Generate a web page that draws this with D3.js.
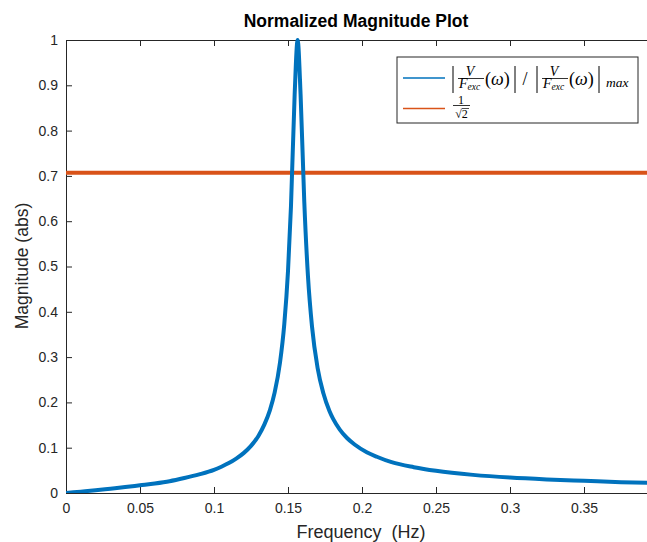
<!DOCTYPE html>
<html>
<head>
<meta charset="utf-8">
<script src="https://cdn.jsdelivr.net/npm/d3@7"></script>
<style>
  body { margin: 0; background: #fff; }
  svg { display: block; font-family: "Liberation Sans", Arial, Helvetica, sans-serif; }
  .tex { font-family: "Liberation Serif", "DejaVu Serif", serif; }
</style>
</head>
<body>
<svg id="chart" width="647" height="542"></svg>
<script>
// values
var freq = [0, 0.01, 0.02, 0.03, 0.04, 0.05, 0.06, 0.07, 0.08, 0.09, 0.10, 0.105, 0.11, 0.115, 0.12, 0.125, 0.13,
            0.134, 0.1378, 0.141, 0.1446, 0.1475, 0.150, 0.152, 0.1545, 0.1565, 0.1585, 0.161, 0.1635,
            0.1662, 0.170, 0.1739, 0.178, 0.1806, 0.185, 0.1897, 0.195, 0.2032, 0.21, 0.22, 0.235,
            0.25, 0.275, 0.30, 0.325, 0.35, 0.375, 0.40];
var magnitude = [0, 0.003, 0.006, 0.0095, 0.013, 0.017, 0.021, 0.026, 0.033, 0.041, 0.051, 0.058, 0.066, 0.076, 0.088, 0.104, 0.126,
                 0.151, 0.183, 0.222, 0.288, 0.373, 0.49, 0.632, 0.88, 1.0, 0.88, 0.643, 0.478,
                 0.368, 0.276, 0.22, 0.181, 0.163, 0.140, 0.122, 0.107, 0.090, 0.080, 0.068, 0.057,
                 0.049, 0.040, 0.034, 0.030, 0.027, 0.024, 0.022];
var halfPower = 1 / Math.SQRT2;
var xTicks = [0, 0.05, 0.1, 0.15, 0.2, 0.25, 0.3, 0.35];
var yTicks = [0, 0.1, 0.2, 0.3, 0.4, 0.5, 0.6, 0.7, 0.8, 0.9, 1];

var svg = d3.select("#chart");
var plotL = 66, plotT = 40, plotR = 658, plotB = 493;
var axisColor = "#262626";

var x = d3.scaleLinear().domain([0, 0.4]).range([plotL, plotR]);
var y = d3.scaleLinear().domain([0, 1]).range([plotB, plotT]);

svg.append("defs").append("clipPath").attr("id", "clip")
  .append("rect").attr("x", plotL).attr("y", plotT - 2).attr("width", plotR - plotL).attr("height", plotB - plotT + 2);

// axes
var fmt = function(d) { return d3.format("~g")(d); };
var xAxis = svg.append("g").attr("transform", "translate(0," + plotB + ")")
  .call(d3.axisBottom(x).tickValues(xTicks).tickSize(-6).tickPadding(10).tickFormat(fmt));
var xTop = svg.append("g").attr("transform", "translate(0," + plotT + ")")
  .call(d3.axisTop(x).tickValues(xTicks).tickSize(-6).tickFormat(""));
var yAxis = svg.append("g").attr("transform", "translate(" + plotL + ",0)")
  .call(d3.axisLeft(y).tickValues(yTicks).tickSize(-6).tickPadding(8).tickFormat(fmt));

[xAxis, xTop, yAxis].forEach(function(g) {
  g.select(".domain").attr("stroke", axisColor).attr("stroke-width", 1);
  g.selectAll(".tick line").attr("stroke", axisColor).attr("stroke-width", 1);
  g.selectAll(".tick text").attr("fill", "#262626").style("font-size", "14px")
    .style("font-family", "'Liberation Sans', Arial, sans-serif");
});

// lines
var line = d3.line()
  .x(function(d, i) { return x(freq[i]); })
  .y(function(d) { return y(d); })
  .curve(d3.curveMonotoneX);

svg.append("line")
  .attr("clip-path", "url(#clip)")
  .attr("x1", x(0)).attr("x2", x(0.4))
  .attr("y1", y(halfPower)).attr("y2", y(halfPower))
  .attr("stroke", "#D95319").attr("stroke-width", 4);

svg.append("path")
  .datum(magnitude)
  .attr("clip-path", "url(#clip)")
  .attr("d", line)
  .attr("fill", "none")
  .attr("stroke", "#0072BD")
  .attr("stroke-width", 4)
  .attr("stroke-linejoin", "round");

// labels
svg.append("text").attr("x", 356).attr("y", 27).attr("text-anchor", "middle")
  .style("font-size", "17.5px").style("font-weight", "bold").attr("fill", "#000")
  .text("Normalized Magnitude Plot");
svg.append("text").attr("x", 361).attr("y", 538).attr("text-anchor", "middle")
  .style("font-size", "18px").attr("fill", "#262626").attr("xml:space", "preserve")
  .text("Frequency  (Hz)");
svg.append("text").attr("transform", "translate(28,266) rotate(-90)").attr("text-anchor", "middle")
  .style("font-size", "17.5px").attr("fill", "#262626")
  .text("Magnitude (abs)");

// legend
var lg = svg.append("g").attr("transform", "translate(397,57)");
lg.append("rect").attr("width", 241).attr("height", 66)
  .attr("fill", "#fff").attr("stroke", axisColor).attr("stroke-width", 1);
lg.append("line").attr("x1", 6).attr("x2", 48).attr("y1", 21).attr("y2", 21)
  .attr("stroke", "#0072BD").attr("stroke-width", 1.5);
lg.append("line").attr("x1", 6).attr("x2", 48).attr("y1", 51.5).attr("y2", 51.5)
  .attr("stroke", "#D95319").attr("stroke-width", 1.5);

var tex = lg.append("g").attr("class", "tex").attr("fill", "#000");
function vbar(px) {
  tex.append("line").attr("x1", px).attr("x2", px).attr("y1", 9).attr("y2", 36)
    .attr("stroke", "#000").attr("stroke-width", 1);
}
function frac(px) {
  tex.append("text").attr("x", px + 12).attr("y", 19).attr("text-anchor", "middle")
    .style("font-size", "14px").style("font-style", "italic").text("V");
  tex.append("line").attr("x1", px).attr("x2", px + 26).attr("y1", 21.5).attr("y2", 21.5)
    .attr("stroke", "#000").attr("stroke-width", 0.8);
  var t = tex.append("text").attr("x", px + 1).attr("y", 31)
    .style("font-size", "14px").style("font-style", "italic");
  t.append("tspan").text("F");
  t.append("tspan").attr("dy", 2).style("font-size", "9.5px").text("exc");
  var p = tex.append("text").attr("x", px + 27).attr("y", 27.5).style("font-size", "18px");
  p.append("tspan").text("(");
  p.append("tspan").style("font-style", "italic").text("ω");
  p.append("tspan").text(")");
}
vbar(56);
frac(61);
vbar(118);
tex.append("text").attr("x", 128).attr("y", 28).attr("text-anchor", "middle")
  .style("font-size", "18px").text("/");
vbar(140);
frac(145);
vbar(202);
tex.append("text").attr("x", 209).attr("y", 30)
  .style("font-size", "13.5px").style("font-style", "italic").text("max");

tex.append("text").attr("x", 64).attr("y", 46.5).attr("text-anchor", "middle")
  .style("font-size", "12px").text("1");
tex.append("line").attr("x1", 56).attr("x2", 73).attr("y1", 48.5).attr("y2", 48.5)
  .attr("stroke", "#000").attr("stroke-width", 0.8);
tex.append("text").attr("x", 64.5).attr("y", 61).attr("text-anchor", "middle")
  .style("font-size", "12px").text("√2");
tex.append("line").attr("x1", 65).attr("x2", 72).attr("y1", 51.5).attr("y2", 51.5)
  .attr("stroke", "#000").attr("stroke-width", 0.7);
</script>
</body>
</html>
